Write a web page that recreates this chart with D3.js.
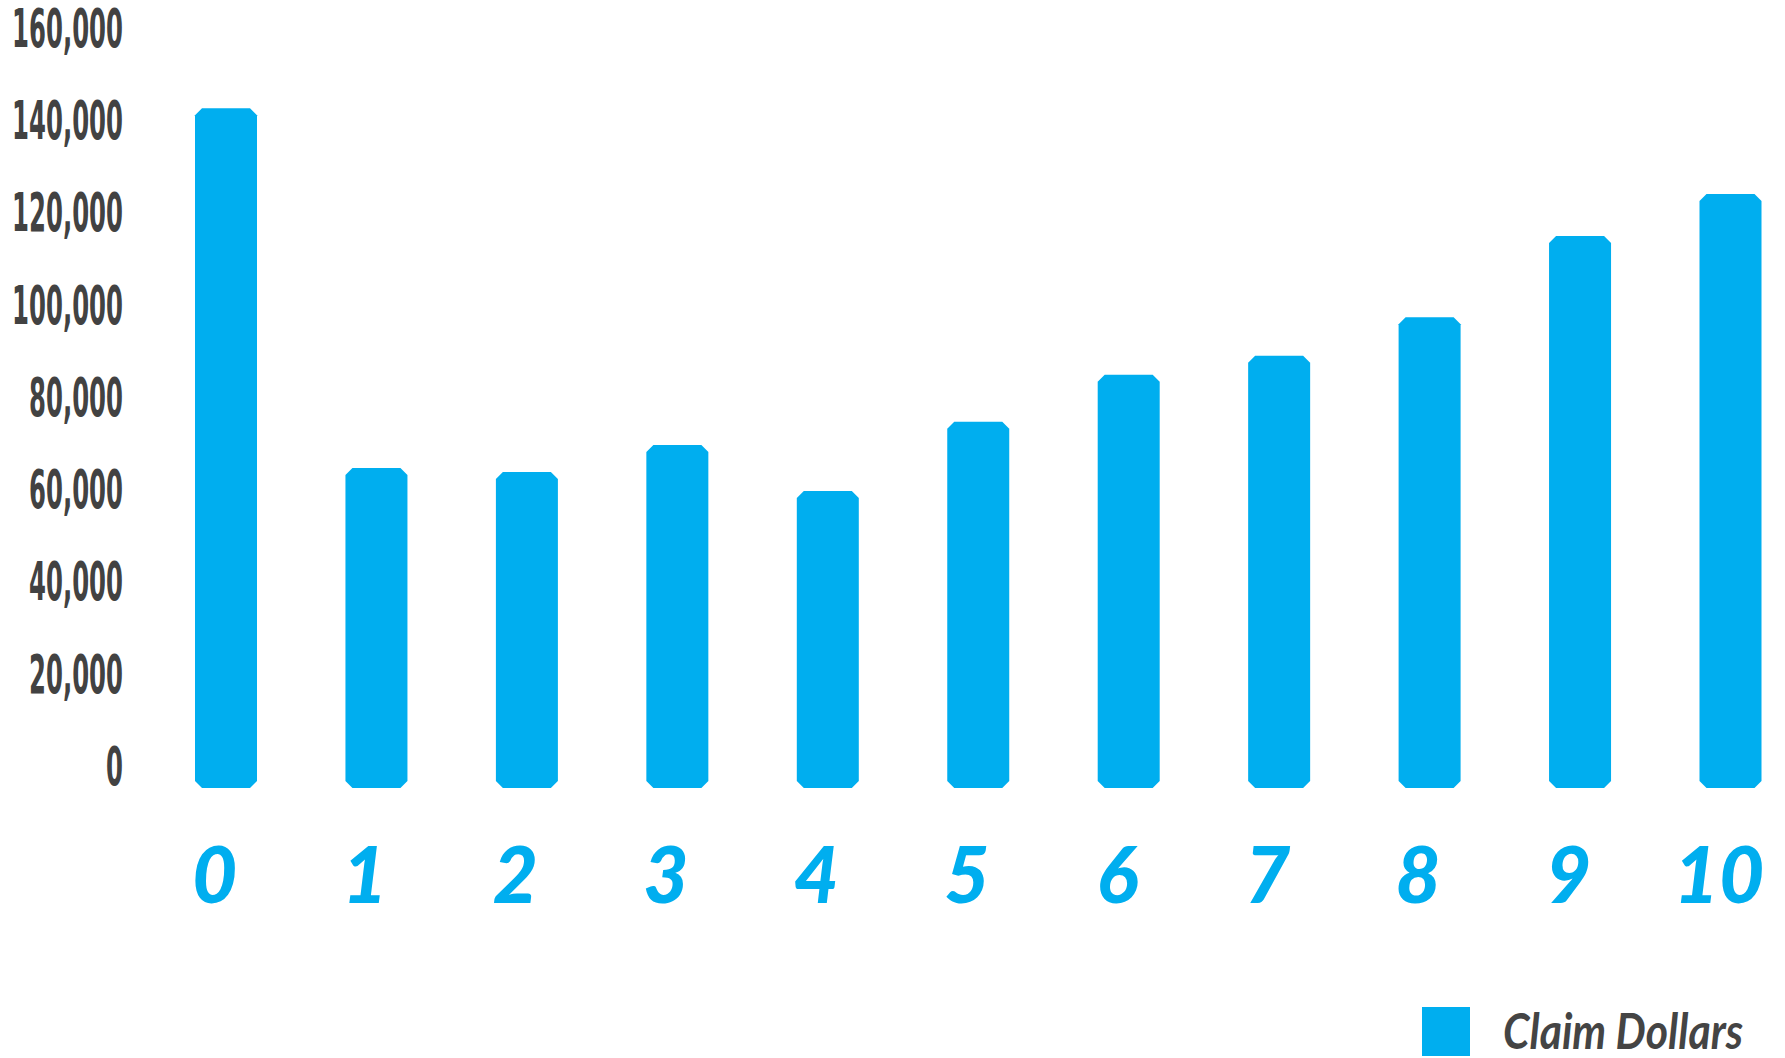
<!DOCTYPE html>
<html>
<head>
<meta charset="utf-8">
<script src="https://cdn.jsdelivr.net/npm/d3@7"></script>
<style>
  html, body { margin: 0; padding: 0; background: #ffffff; }
  svg { display: block; }
</style>
</head>
<body>
<svg id="chart" width="1785" height="1058"></svg>
<script>
// ---- data ----
const categories = ["0", "1", "2", "3", "4", "5", "6", "7", "8", "9", "10"];
const claimDollars = [142400, 64400, 63500, 69400, 59400, 74400, 84600, 88700, 97100, 114700, 123800];
const yTickValues = [0, 20000, 40000, 60000, 80000, 100000, 120000, 140000, 160000];
const seriesName = "Claim Dollars";

// ---- layout ----
const BLUE = "#00AEEF";
const svg = d3.select("#chart");

const y = d3.scaleLinear().domain([0, 160000]).range([765, 27]);
const x = d3.scalePoint().domain(categories).range([226, 1730.5]);
const barW = 62, chamfer = 7, baseExtra = 23;

// bars with chamfered corners
function barPath(cx, top, bot) {
  const l = cx - barW / 2, r = cx + barW / 2, c = chamfer;
  return `M${l + c},${top}L${r - c},${top}L${r},${top + c}L${r},${bot - c}L${r - c},${bot}L${l + c},${bot}L${l},${bot - c}L${l},${top + c}Z`;
}
svg.append("g").selectAll("path")
  .data(categories.map((c, i) => ({ c, v: claimDollars[i] })))
  .join("path")
  .attr("d", d => barPath(x(d.c), y(d.v), y(0) + baseExtra))
  .attr("fill", BLUE);

// y axis
const yAxis = svg.append("g")
  .attr("transform", "translate(123,0)")
  .call(d3.axisLeft(y).tickValues(yTickValues).tickFormat(d3.format(",")).tickSize(0).tickPadding(0));
yAxis.select(".domain").remove();
const yText = yAxis.selectAll("text")
  .attr("x", 0)
  .attr("dy", "0.36em")
  .attr("fill", "#424242")
  .style("font-family", "'Liberation Sans Narrow', 'DejaVu Sans Condensed', sans-serif")
  .style("font-weight", "700")
  .style("font-size", "54px");
// squeeze horizontally so the widest label is ~111px wide
let maxLen = 0;
yText.each(function () { maxLen = Math.max(maxLen, this.getComputedTextLength()); });
const sx = 111 / maxLen;
yText.attr("transform", `scale(${sx},1)`);

// x axis
const xAxis = svg.append("g")
  .attr("transform", "translate(-12,903)")
  .call(d3.axisBottom(x).tickSize(0).tickPadding(0));
xAxis.select(".domain").remove();
xAxis.selectAll("text")
  .attr("y", 0)
  .attr("dy", 0)
  .attr("fill", BLUE)
  .style("font-family", "Lato, 'Open Sans', sans-serif")
  .style("font-style", "italic")
  .style("font-weight", "900")
  .style("font-size", "78px");

// legend
const lg = svg.append("g");
lg.append("rect").attr("x", 1422).attr("y", 1007).attr("width", 48).attr("height", 49).attr("fill", BLUE);
lg.append("text")
  .attr("x", 1503).attr("y", 1049)
  .attr("fill", "#444444")
  .attr("textLength", 240)
  .attr("lengthAdjust", "spacingAndGlyphs")
  .style("font-family", "Lato, 'Open Sans', sans-serif")
  .style("font-style", "italic")
  .style("font-weight", "700")
  .style("font-size", "50px")
  .text(seriesName);
</script>
</body>
</html>
